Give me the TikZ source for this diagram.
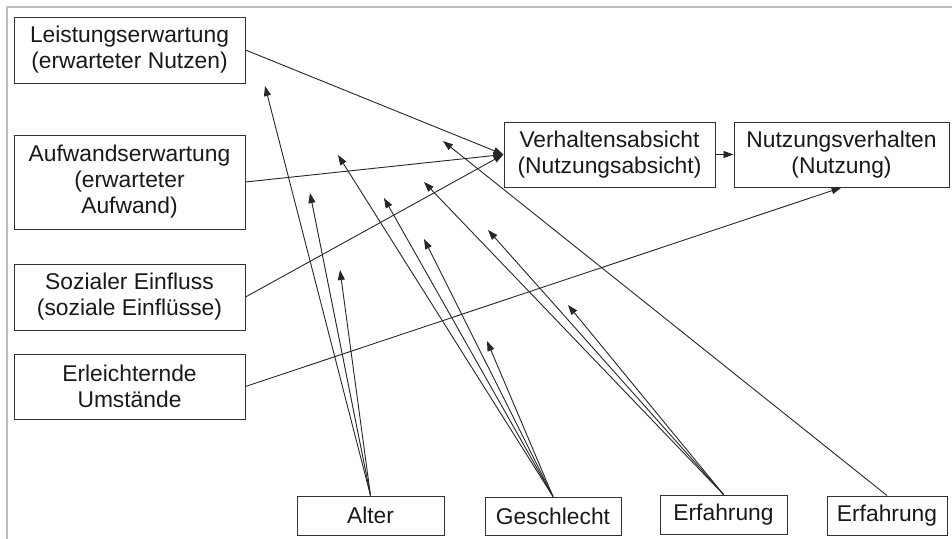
\documentclass[tikz,border=0pt]{standalone}
\usepackage{fontspec}
\setmainfont{Liberation Sans}
\usetikzlibrary{arrows.meta}
\begin{document}
\begin{tikzpicture}[x=1pt,y=-1pt,
  box/.style={draw=black!80, line width=1pt, align=center, inner sep=2pt,
    font=\fontsize{22.8pt}{26pt}\selectfont, text=black!90},
  conn/.style={draw=black!85, line width=0.9pt, -{Triangle[length=10pt,width=7pt]}},
  plain/.style={draw=black!85, line width=0.9pt}]
\useasboundingbox (0,0) rectangle (952,538);
\draw[black!25, line width=1.6pt] (7,540) -- (7,7) -- (954,7);

\node[box, minimum width=231pt, minimum height=66pt] (L) at (129.5,50) {Leistungserwartung\\(erwarteter Nutzen)};
\node[box, minimum width=231pt, minimum height=94pt] (A) at (129.5,182) {Aufwandserwartung\\(erwarteter\\Aufwand)};
\node[box, minimum width=231pt, minimum height=66pt] (S) at (129.5,297) {Sozialer Einfluss\\(soziale Einflüsse)};
\node[box, minimum width=231pt, minimum height=65pt] (E) at (129.5,386.5) {Erleichternde\\Umstände};
\node[box, minimum width=211pt, minimum height=65pt] (V) at (609.5,154.5) {Verhaltensabsicht\\(Nutzungsabsicht)};
\node[box, minimum width=215pt, minimum height=65pt] (N) at (841.5,154.5) {Nutzungsverhalten\\(Nutzung)};
\node[box, minimum width=147pt, minimum height=39pt] (al) at (370.5,515.5) {Alter};
\node[box, minimum width=136pt, minimum height=38pt] (ge) at (553,516) {Geschlecht};
\node[box, minimum width=127pt, minimum height=39pt] (ef1) at (723.5,514.5) {Erfahrung};
\node[box, minimum width=120pt, minimum height=39pt] (ef2) at (887,515.5) {Erfahrung};

% moderator arrow tips
\coordinate (a1) at (265,86);
\coordinate (a2) at (310,193);
\coordinate (a3) at (340,270);
\coordinate (g1) at (338,155);
\coordinate (g2) at (384,198);
\coordinate (g3) at (424,239);
\coordinate (g4) at (487,341);
\coordinate (e1) at (424,182);
\coordinate (e2) at (488,230);
\coordinate (e3) at (568,305);
\coordinate (f1) at (443,141);

\draw[conn] (L.east) -- (V.west);
\draw[conn] (A.east) -- (V.west);
\draw[conn] (S.east) -- (V.west);
\draw[conn] (E.east) -- (N.south);
\draw[conn] (V.east) -- (N.west);

\foreach \t in {a1,a2,a3} \draw[conn] (al.north) -- (\t);
\foreach \t in {g1,g2,g3,g4} \draw[conn] (ge.north) -- (\t);
\foreach \t in {e1,e2,e3} \draw[conn] (ef1.north) -- (\t);
\draw[conn] (ef2.north) -- (f1);
\end{tikzpicture}
\end{document}
